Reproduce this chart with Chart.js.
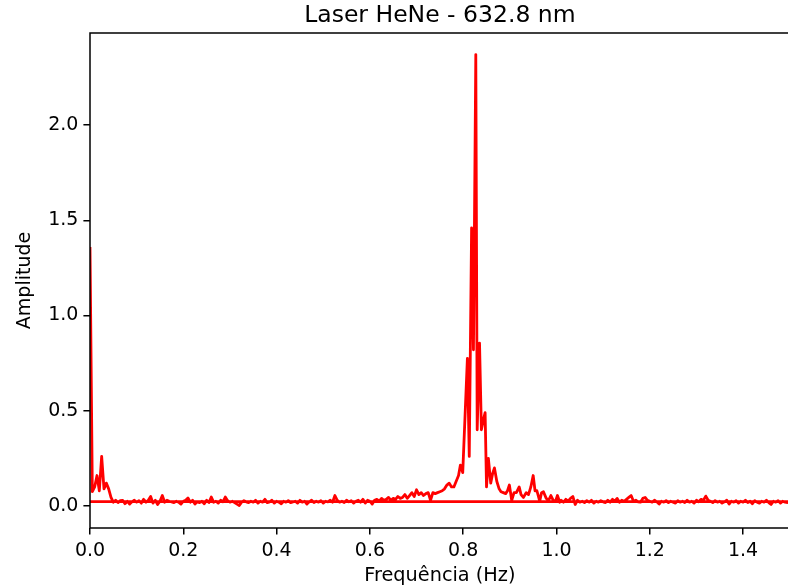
<!DOCTYPE html>
<html>
<head>
<meta charset="utf-8">
<script src="https://cdn.jsdelivr.net/npm/chart.js@4.4.1/dist/chart.umd.min.js"></script>
<style>
html,body{margin:0;padding:0;background:#fff;overflow:hidden;}
#wrap{position:relative;width:792px;height:588px;}
</style>
</head>
<body>
<div id="wrap"><canvas id="c"></canvas></div>
<script>
// ---- data ----
const titleText = 'Laser HeNe - 632.8 nm';
const xLabel = 'Frequência (Hz)';
const yLabel = 'Amplitude';

const freqLow = [
0,0.005,0.01,0.015,0.02,0.025,0.03,0.035,0.04,0.045,
0.05,0.055,0.06,0.065,0.07,0.075,0.08,0.085,0.09,0.095,
0.1,0.105,0.11,0.115,0.12,0.125,0.13,0.135,0.14,0.145,
0.15,0.155,0.16,0.165,0.17,0.175,0.18,0.185,0.19,0.195,
0.2,0.205,0.21,0.215,0.22,0.225,0.23,0.235,0.24,0.245,
0.25,0.255,0.26,0.265,0.27,0.275,0.28,0.285,0.29,0.295,
0.3,0.305,0.31,0.315,0.32,0.325,0.33,0.335,0.34,0.345,
0.35,0.355,0.36,0.365,0.37,0.375,0.38,0.385,0.39,0.395,
0.4,0.405,0.41,0.415,0.42,0.425,0.43,0.435,0.44,0.445,
0.45,0.455,0.46,0.465,0.47,0.475,0.48,0.485,0.49,0.495,
0.5,0.505,0.51,0.515,0.52,0.525,0.53,0.535,0.54,0.545,
0.55,0.555,0.56,0.565,0.57,0.575,0.58,0.585,0.59,0.595,
0.6,0.605,0.61,0.615,0.62,0.625,0.63,0.635,0.64,0.645,
0.65,0.655,0.66,0.665,0.67,0.675,0.68,0.685,0.69,0.695,
0.7,0.705,0.71,0.715,0.72,0.725,0.73,0.735,0.74,0.745,
0.75,0.755,0.76,0.765,0.77,0.775,0.78,0.785,0.79];
const ampLow = [
1.36,0.075,0.10,0.16,0.08,0.26,0.09,0.12,0.09,0.045,
0.02,0.03,0.018,0.028,0.03,0.012,0.025,0.01,0.022,0.03,
0.02,0.028,0.015,0.035,0.02,0.03,0.05,0.015,0.03,0.008,
0.025,0.055,0.02,0.03,0.025,0.022,0.018,0.025,0.02,0.01,
0.025,0.03,0.042,0.02,0.03,0.01,0.022,0.018,0.025,0.012,
0.03,0.018,0.047,0.02,0.025,0.015,0.03,0.022,0.047,0.028,
0.02,0.025,0.018,0.01,0.003,0.02,0.028,0.022,0.018,0.025,
0.02,0.03,0.015,0.025,0.02,0.035,0.018,0.022,0.03,0.015,
0.025,0.02,0.012,0.025,0.02,0.028,0.018,0.022,0.025,0.015,
0.03,0.02,0.025,0.01,0.022,0.03,0.018,0.025,0.02,0.028,
0.015,0.025,0.022,0.03,0.02,0.055,0.03,0.02,0.025,0.018,
0.03,0.022,0.028,0.015,0.025,0.03,0.02,0.035,0.015,0.03,
0.025,0.01,0.03,0.035,0.025,0.04,0.03,0.035,0.045,0.03,
0.04,0.035,0.05,0.04,0.045,0.06,0.04,0.055,0.07,0.05,
0.085,0.06,0.07,0.055,0.065,0.07,0.03,0.07,0.065,0.07,
0.075,0.08,0.09,0.11,0.12,0.10,0.10,0.13,0.16];

const freqPeak = [
0.794,0.799,0.809,0.813,0.818,0.822,0.827,0.830,0.835,0.839,
0.844,0.847,0.850,0.854,0.859,0.863,0.867,0.872,0.877,0.881,
0.886,0.891,0.895,0.899,0.904,0.909,0.914,0.920,0.924,0.929,
0.935,0.940,0.945,0.950,0.954,0.958,0.964,0.968,0.972,0.978,
0.983,0.988,0.993,0.998,1.002,1.007];
const ampPeak = [
0.215,0.175,0.775,0.26,1.46,0.82,2.37,0.40,0.855,0.40,
0.46,0.49,0.10,0.25,0.12,0.17,0.20,0.13,0.09,0.075,
0.07,0.065,0.08,0.11,0.03,0.07,0.07,0.10,0.06,0.045,
0.07,0.06,0.10,0.16,0.08,0.08,0.025,0.07,0.075,0.04,
0.03,0.055,0.03,0.025,0.055,0.02];

const freqHigh = [
1.01,1.015,1.02,1.025,1.03,1.035,1.04,1.045,1.05,1.055,
1.06,1.065,1.07,1.075,1.08,1.085,1.09,1.095,1.1,1.105,
1.11,1.115,1.12,1.125,1.13,1.135,1.14,1.145,1.15,1.155,
1.16,1.165,1.17,1.175,1.18,1.185,1.19,1.195,1.2,1.205,
1.21,1.215,1.22,1.225,1.23,1.235,1.24,1.245,1.25,1.255,
1.26,1.265,1.27,1.275,1.28,1.285,1.29,1.295,1.3,1.305,
1.31,1.315,1.32,1.325,1.33,1.335,1.34,1.345,1.35,1.355,
1.36,1.365,1.37,1.375,1.38,1.385,1.39,1.395,1.4,1.405,
1.41,1.415,1.42,1.425,1.43,1.435,1.44,1.445,1.45,1.455,
1.46,1.465,1.47,1.475,1.48,1.485,1.49,1.495,1.5];
const ampHigh = [
0.03,0.02,0.035,0.025,0.04,0.05,0.008,0.03,0.02,0.025,
0.018,0.028,0.02,0.03,0.015,0.025,0.02,0.028,0.022,0.018,
0.03,0.02,0.035,0.025,0.04,0.02,0.03,0.025,0.035,0.045,
0.055,0.025,0.03,0.022,0.02,0.04,0.045,0.03,0.025,0.02,
0.03,0.022,0.01,0.025,0.02,0.028,0.018,0.025,0.02,0.015,
0.028,0.02,0.025,0.018,0.03,0.02,0.025,0.015,0.03,0.022,
0.035,0.03,0.052,0.03,0.025,0.018,0.028,0.02,0.025,0.015,
0.022,0.03,0.01,0.025,0.02,0.028,0.015,0.025,0.02,0.03,
0.018,0.025,0.012,0.028,0.02,0.015,0.025,0.02,0.03,0.018,
0.008,0.025,0.02,0.028,0.015,0.025,0.02,0.018,0.023];

// negative-frequency branch start (FFT order wraps from +Nyquist to -Nyquist)
const freqNeg = [-1.5];
const ampNeg = [0.023];

const xTicksStep = 0.2;
const yTicksStep = 0.5;

// ---- build points in data order ----
const freqAll = freqLow.concat(freqPeak, freqHigh, freqNeg);
const ampAll = ampLow.concat(ampPeak, ampHigh, ampNeg);
const points = [];
for (let i = 0; i < Math.min(freqAll.length, ampAll.length); i++) {
  points.push({x: freqAll[i], y: ampAll[i]});
}

Chart.defaults.font.family = "'DejaVu Sans', sans-serif";
Chart.defaults.color = '#000';

const frameBox = {
  id: 'frameBox',
  afterDatasetsDraw(chart) {
    const a = chart.chartArea, ctx = chart.ctx;
    ctx.save();
    ctx.strokeStyle = '#000';
    ctx.lineWidth = 1.5;
    ctx.strokeRect(a.left, a.top, a.right - a.left, a.bottom - a.top);
    ctx.restore();
  }
};

// title centred over the axes (as matplotlib does)
const axesTitle = {
  id: 'axesTitle',
  afterDraw(chart) {
    const a = chart.chartArea, ctx = chart.ctx;
    ctx.save();
    ctx.fillStyle = '#000';
    ctx.font = "23.5px 'DejaVu Sans', sans-serif";
    ctx.textAlign = 'center';
    ctx.textBaseline = 'middle';
    ctx.fillText(titleText, (a.left + a.right) / 2, 16);
    ctx.restore();
  }
};

new Chart(document.getElementById('c'), {
  type: 'line',
  data: {
    datasets: [{
      data: points,
      borderColor: '#ff0000',
      borderWidth: 2.8,
      pointRadius: 0,
      tension: 0,
      fill: false,
      borderJoinStyle: 'round'
    }]
  },
  options: {
    responsive: true,
    maintainAspectRatio: false,
    animation: false,
    devicePixelRatio: 1,
    layout: {padding: {left: 0, right: 2.25, top: 33, bottom: 0}},
    plugins: {
      legend: {display: false},
      tooltip: {enabled: false},
      title: {display: false}
    },
    scales: {
      x: {
        type: 'linear',
        min: 0,
        max: 1.5,
        afterFit(s) { s.height = 60; },
        border: {display: false},
        grid: {drawOnChartArea: false, drawTicks: true, tickLength: 6.6, tickWidth: 1.5, tickColor: '#000', color: '#000', lineWidth: 1.5},
        ticks: {
          stepSize: xTicksStep,
          includeBounds: false,
          autoSkip: false,
          maxRotation: 0,
          padding: 5,
          color: '#000',
          font: {size: 19, lineHeight: 1.2},
          callback: v => Number(v).toFixed(1)
        },
        title: {display: true, text: xLabel, color: '#000', font: {size: 19.3, lineHeight: 1.2}, padding: {top: 0, bottom: 0}}
      },
      y: {
        type: 'linear',
        min: -0.1155,
        max: 2.483,
        afterFit(s) { s.width = 90; },
        border: {display: false},
        grid: {drawOnChartArea: false, drawTicks: true, tickLength: 6.6, tickWidth: 1.5, tickColor: '#000', color: '#000', lineWidth: 1.5},
        ticks: {
          stepSize: yTicksStep,
          includeBounds: false,
          autoSkip: false,
          padding: 5,
          color: '#000',
          font: {size: 19, lineHeight: 1.2},
          callback: v => Number(v).toFixed(1)
        },
        title: {display: true, text: yLabel, color: '#000', font: {size: 19, lineHeight: 1.2}, padding: {top: 14, bottom: 0}}
      }
    }
  },
  plugins: [frameBox, axesTitle]
});
</script>
</body>
</html>
